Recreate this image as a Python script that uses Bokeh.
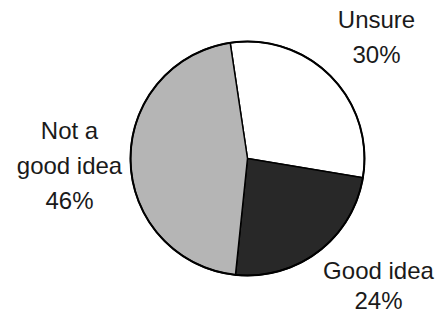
import math
from bokeh.plotting import figure
from bokeh.models import Range1d, ColumnDataSource
from bokeh.core.properties import value
from bokeh.embed import file_html
from bokeh.resources import INLINE

# ---- data ----
categories = ["Unsure", "Good idea", "Not a\ngood idea"]
percents = [30, 24, 46]
colors = ["#ffffff", "#282828", "#b5b5b5"]

# ---- layout (x = screen x, y = 323 - screen y) ----
W, H = 436, 315
cx, cy, r = 247, 323 - 158, 117
start_offset = -8.5  # degrees, clockwise from 12 o'clock
label_anchor = [(376, 19), (378, 270), (69, 130)]  # first-line baseline
line_steps = [35, 30, 35]
font_px = 24

p = figure(width=W, height=H, output_backend="svg", toolbar_location=None,
           x_range=Range1d(0, W), y_range=Range1d(323 - H, 323),
           min_border=0)
p.axis.visible = False
p.grid.visible = False
p.outline_line_color = None
p.background_fill_color = "white"
p.border_fill_color = "white"

# wedges
total = sum(percents)
starts, ends = [], []
acc = start_offset
for v in percents:
    a = acc
    b = acc + v / total * 360.0
    starts.append(math.radians(90 - b))
    ends.append(math.radians(90 - a))
    acc = b

src = ColumnDataSource(dict(start=starts, end=ends, color=colors))
p.wedge(x=cx, y=cy, radius=r, start_angle="start", end_angle="end",
        fill_color="color", line_color="black", line_width=1.5, source=src)
p.circle(x=cx, y=cy, radius=r, fill_color=None, line_color="black", line_width=2)

# labels
xs, ys, texts = [], [], []
for cat, v, (ax, ay), st in zip(categories, percents, label_anchor, line_steps):
    lines = cat.split("\n") + [f"{v}%"]
    for i, ln in enumerate(lines):
        xs.append(ax)
        ys.append(323 - (ay + i * st))
        texts.append(ln)

p.text(x=xs, y=ys, text=texts, text_align="center", text_baseline="alphabetic",
       text_font=value("Liberation Sans"), text_font_size=f"{font_px}px",
       text_color="#1a1a1a")

open("out.html", "w").write(file_html(p, INLINE))
